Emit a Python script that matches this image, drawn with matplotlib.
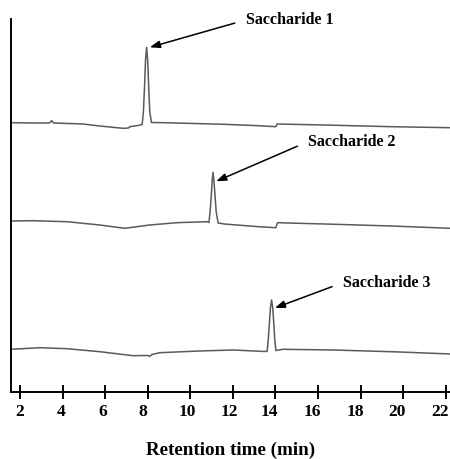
import numpy as np
import matplotlib.pyplot as plt
from matplotlib.transforms import ScaledTranslation

# retention time (min) and detector response
time1 = [1.58, 2.6, 3.40, 3.49, 3.58, 4.96, 5.75, 6.84, 7.10, 7.16, 7.55, 7.74,
         7.80, 7.85, 7.90, 7.95, 8.00, 8.05, 8.10, 8.18, 8.8, 11.6, 13.2, 14.02,
         14.08, 16.3, 19.45, 22.2]
signal1 = [269.3, 269, 269, 271.5, 269, 268, 266, 263.7, 264, 265.3, 266.5, 267.5,
           280, 304, 332, 344.7, 332, 304, 280, 269.5, 269.3, 267.7, 266.3, 265.3,
           268, 267, 265.3, 264.3]

time2 = [1.58, 2.6, 4.2, 5.75, 6.93, 8.1, 9.37, 10.8, 10.88, 10.94, 10.99, 11.03,
         11.07, 11.11, 11.16, 11.22, 11.31, 11.6, 13.2, 14.02, 14.1, 16.3, 19.45, 22.2]
signal2 = [171, 171.3, 170.3, 167, 163.7, 167, 169.3, 170.3, 169.5, 182, 197, 212,
           219.7, 212, 197, 180, 169, 168, 165.3, 164.3, 169.3, 168, 166, 163.7]

time3 = [1.58, 2.94, 4.2, 5.75, 7.3, 8.0, 8.1, 8.2, 8.57, 10.45, 12.0, 13.27, 13.61,
         13.67, 13.72, 13.77, 13.82, 13.87, 13.92, 13.97, 14.02, 14.35, 16.7, 19.84, 22.2]
signal3 = [42.7, 44.3, 43.3, 40.3, 36.3, 36.5, 35.7, 37.5, 39.3, 41, 42, 40.7, 40.5,
           54, 70, 85, 92, 85, 70, 52, 41.5, 42.7, 42, 40, 38]

labels = ["Saccharide 1", "Saccharide 2", "Saccharide 3"]
# where each label sits (time, response)
label_pos = [(12.6, 372), (15.52, 250.3), (17.16, 109.3)]
# arrow tip shift from the peak apex
tip_shift = [(0.15, 0), (0.15, -9), (0.15, -8)]

xticks = np.arange(2, 23, 2)
# the scanned tick numbers sit a little left of their ticks (px)
tick_label_shift = [0, -1, -2, -4.5, -2.6, -3.3, -6, -5.6, -5.5, -6, -5.5]

serif = "Liberation Serif"

fig = plt.figure(figsize=(4.5, 4.59), dpi=100)
ax = fig.add_axes([0.0244, 0.146, 0.9756, 0.8126])

traces = [(time1, signal1), (time2, signal2), (time3, signal3)]
for t, s in traces:
    ax.plot(t, s, color="#5a5a5a", lw=1.1)

for (t, s), lab, pos, sh in zip(traces, labels, label_pos, tip_shift):
    i = int(np.argmax(s))
    ax.annotate(lab, xy=(t[i] + sh[0], s[i] + sh[1]), xytext=pos,
                ha="left", va="center", fontsize=11.5, fontweight="bold",
                family=serif,
                arrowprops=dict(arrowstyle="-|>,head_length=0.6,head_width=0.22",
                                color="black", lw=1.1, shrinkA=6, shrinkB=0,
                                relpos=(0, 0.5), mutation_scale=10))

ax.set_xlim(1.58, 22.2)
ax.set_ylim(0, 373)
ax.set_xticks(xticks)
ax.set_yticks([])
ax.tick_params(axis="x", direction="inout", length=9.4, width=1.4, pad=4)
for lab, dx in zip(ax.get_xticklabels(), tick_label_shift):
    lab.set_fontfamily(serif)
    lab.set_fontweight("bold")
    lab.set_fontsize(12.5)
    lab.set_transform(lab.get_transform() + ScaledTranslation(dx / 100, 0, fig.dpi_scale_trans))

ax.spines["top"].set_visible(False)
ax.spines["right"].set_visible(False)
ax.spines["left"].set_linewidth(1.4)
ax.spines["bottom"].set_linewidth(1.4)

ax.set_xlabel("Retention time (min)", fontsize=13.7, fontweight="bold",
              family=serif, labelpad=15.5)

fig.savefig("out.png", dpi=100)
